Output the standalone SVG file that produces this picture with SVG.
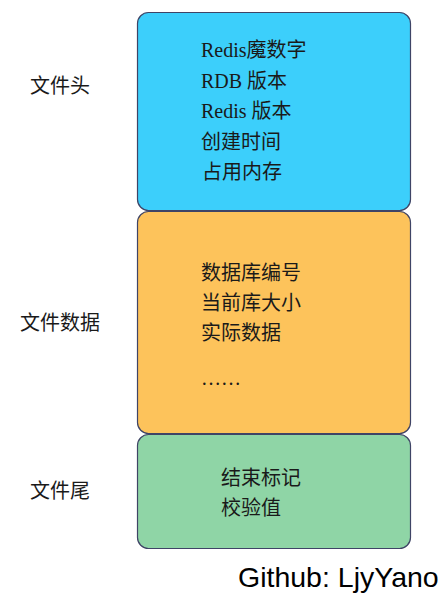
<svg xmlns="http://www.w3.org/2000/svg" width="445" height="598" viewBox="0 0 445 598">
<style>
.box{stroke:#3f4466;stroke-width:1.2}
.t{font-family:"Liberation Serif","Noto Sans CJK SC",serif;font-size:20px;fill:#1a1a1a}
.l{font-family:"Liberation Sans","Noto Sans CJK SC",sans-serif;font-size:20px;fill:#1a1a1a;text-anchor:middle}
.g{font-family:"Liberation Sans","DejaVu Sans",sans-serif;font-size:28.5px;fill:#000}
</style>
<rect width="445" height="598" fill="#fff"/>
<g id="header">
<rect class="box" x="137.5" y="12.5" width="273" height="198" rx="11" fill="#3ccffb"/>
<text class="t" x="201" y="57">Redis魔数字</text>
<text class="t" x="201" y="88">RDB 版本</text>
<text class="t" x="201" y="118">Redis 版本</text>
<text class="t" x="201" y="149">创建时间</text>
<text class="t" x="202" y="179">占用内存</text>
</g>
<g id="data">
<rect class="box" x="137.5" y="211.5" width="273" height="222" rx="11" fill="#fdc35b"/>
<text class="t" x="201" y="280">数据库编号</text>
<text class="t" x="201" y="310">当前库大小</text>
<text class="t" x="201" y="340">实际数据</text>
<text class="t" x="201" y="385">……</text>
</g>
<g id="tail">
<rect class="box" x="137.5" y="434.5" width="273" height="114" rx="11" fill="#8fd5a6"/>
<text class="t" x="221" y="485">结束标记</text>
<text class="t" x="221" y="515">校验值</text>
</g>
<g id="labels">
<text class="l" x="60" y="93">文件头</text>
<text class="l" x="60" y="330">文件数据</text>
<text class="l" x="60" y="498">文件尾</text>
</g>
<g id="connectors"></g>
<text class="g" x="238" y="587">Github: LjyYano</text>
</svg>
